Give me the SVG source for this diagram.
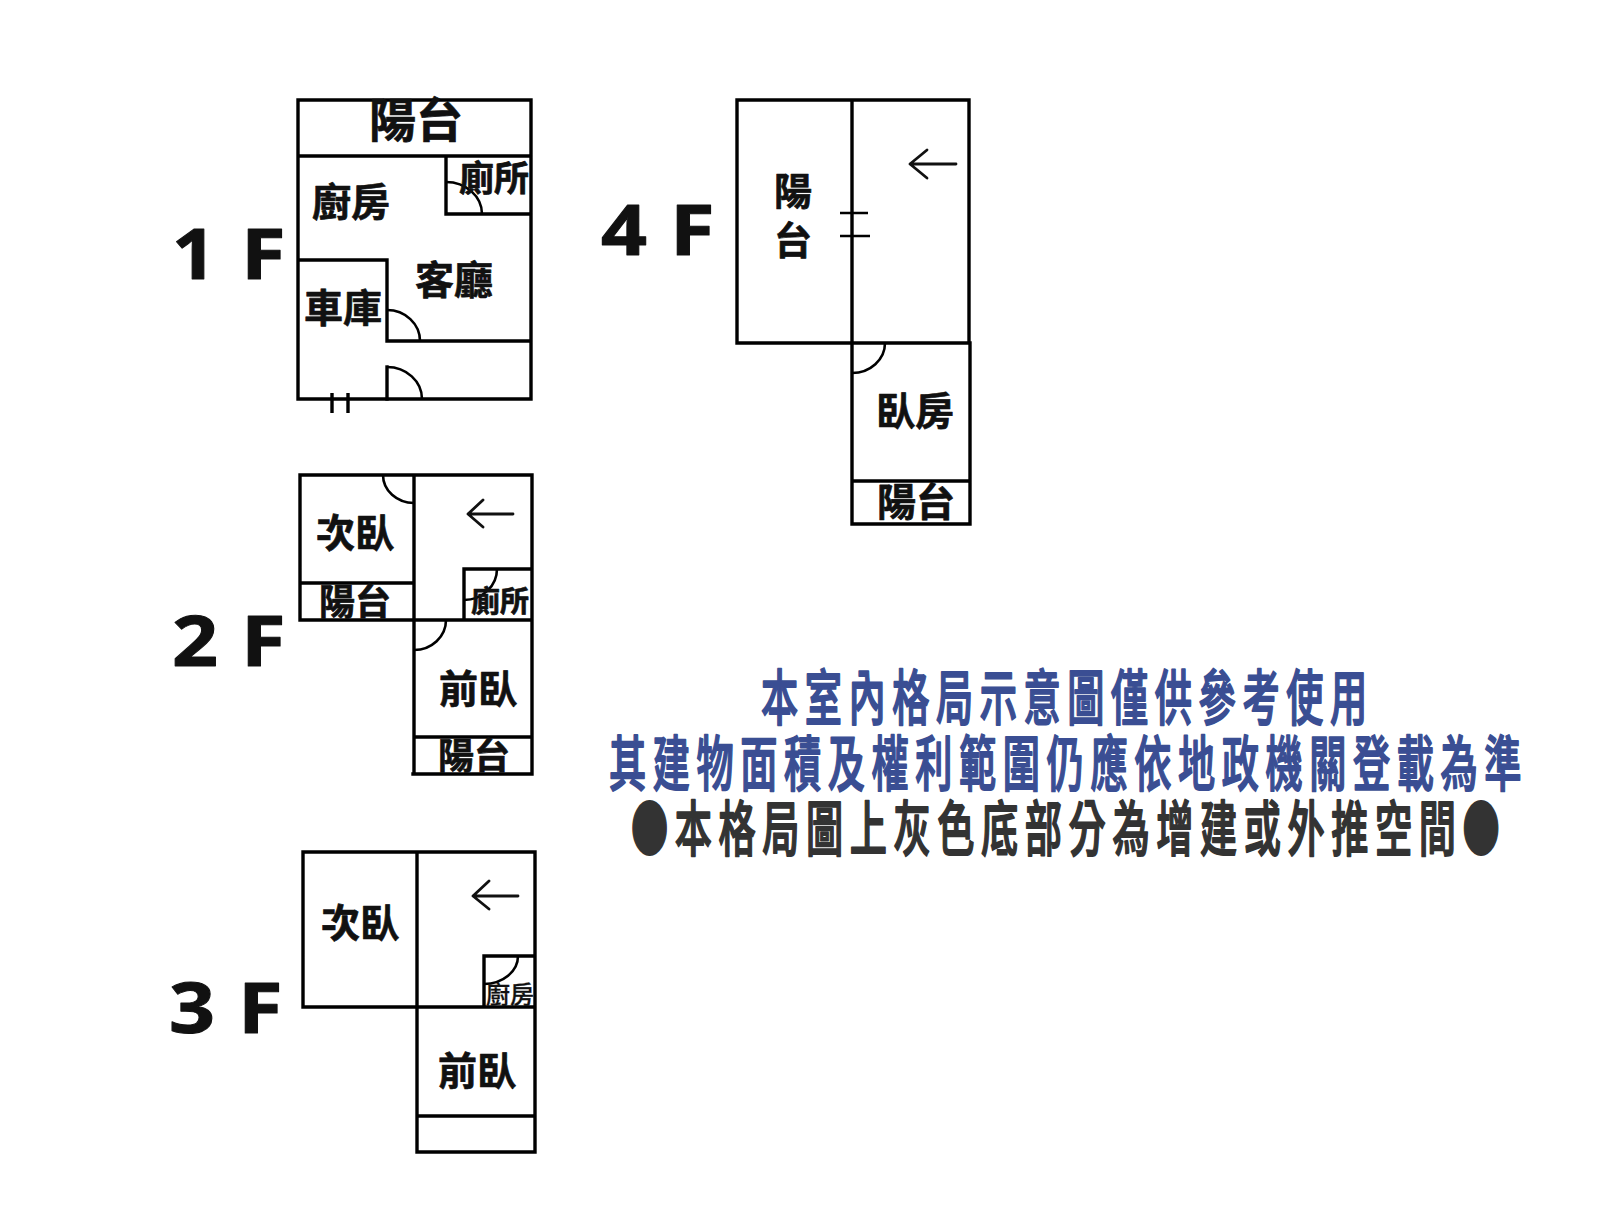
<svg xmlns="http://www.w3.org/2000/svg" width="1600" height="1210" viewBox="0 0 1600 1210">
<style>
.w{fill:none;stroke:#000;stroke-width:3.4;stroke-linecap:square}
.d{fill:none;stroke:#000;stroke-width:2.6}
.a{fill:none;stroke:#111;stroke-width:2.8;stroke-linecap:round;stroke-linejoin:round}
.r{font-family:"Noto Sans CJK TC","Noto Sans CJK SC",sans-serif;font-weight:700;text-anchor:middle;fill:#111;stroke:#111;stroke-width:.7;stroke-linejoin:round}
.f{font-family:"Noto Sans",sans-serif;font-weight:700;fill:#111;stroke:#111;stroke-width:1;stroke-linejoin:round;font-size:70px}
.b{font-family:"Noto Sans CJK TC","Noto Sans CJK SC",sans-serif;font-weight:500;font-size:60px;letter-spacing:10.6px;stroke-width:1.8;stroke-linejoin:round}
.blue{fill:#3a4e93;stroke:#3a4e93}
.dark{fill:#333;stroke:#333}
</style>
<rect width="1600" height="1210" fill="#fff"/>
<g id="floor-1">
<text class="f" transform="translate(172,279) scale(1.1,1)">1</text>
<text class="f" transform="translate(241,279) scale(1.16,1)">F</text>
<path class="w" d="M298 100H531V399H298ZM298 156H531M446 156V214H531M298 260H387V341H531"/>
<path class="w" d="M387 367V399"/>
<path class="w" style="stroke-linecap:butt" d="M332 393V413M348 393V413"/>
<path class="d" d="M446 182A36 32 0 0 1 482 214M387 310A33 31 0 0 1 420 341M387 367A35 32 0 0 1 422 399"/>
<text class="r" x="416" y="137" font-size="47">陽台</text>
<text class="r" x="351" y="216" font-size="39">廚房</text>
<text class="r" x="494" y="191" font-size="35">廁所</text>
<text class="r" x="454" y="294" font-size="39">客廳</text>
<text class="r" x="343" y="322" font-size="39">車庫</text>
</g>
<g id="floor-2">
<text class="f" transform="translate(172,666) scale(1.15,1)">2</text>
<text class="f" transform="translate(241,666) scale(1.16,1)">F</text>
<path class="w" d="M300 475H532V774H413M300 475V620H532M414 475V774M300 583H414M414 737H532M464 620V569H532"/>
<path class="d" d="M383 475A31 28 0 0 0 414 503M414 650A32 30 0 0 0 446 620M497 569A33 31 0 0 1 464 600"/>
<path class="a" d="M513 514H468M483 500L468 514L483 527"/>
<text class="r" x="355" y="547" font-size="39">次臥</text>
<text class="r" x="355" y="615" font-size="36">陽台</text>
<text class="r" x="500" y="612" font-size="29">廁所</text>
<text class="r" x="478" y="703" font-size="39">前臥</text>
<text class="r" x="474" y="769" font-size="36">陽台</text>
</g>
<g id="floor-3">
<text class="f" transform="translate(169,1033) scale(1.15,1)">3</text>
<text class="f" transform="translate(238,1033) scale(1.16,1)">F</text>
<path class="w" d="M303 852H535V1152H417V852M303 852V1007H535M417 1116H535M484 1007V956H535"/>
<path class="d" d="M518 956A34 28 0 0 1 484 984"/>
<path class="a" d="M518 896H473M489 881L473 896L489 909"/>
<text class="r" x="360" y="937" font-size="39">次臥</text>
<text class="r" x="510" y="1003" font-size="24" style="font-weight:500;stroke-width:.3">廚房</text>
<text class="r" x="477" y="1085" font-size="39">前臥</text>
</g>
<g id="floor-4">
<text class="f" transform="translate(601,255) scale(1.15,1)">4</text>
<text class="f" transform="translate(670,255) scale(1.16,1)">F</text>
<path class="w" d="M737 100H969V343H737ZM852 100V524M852 343H970V524H852M852 481H970"/>
<path class="d" d="M852 373A33 30 0 0 0 885 343M840 213H868M840 236H870"/>
<path class="a" d="M956 164H910M927 150L910 164L927 178"/>
<text class="r" x="793" y="205" font-size="38">陽</text>
<text class="r" x="793" y="254" font-size="38">台</text>
<text class="r" x="915" y="425" font-size="39">臥房</text>
<text class="r" x="916" y="516" font-size="39">陽台</text>
</g>
<g id="notes">
<text class="b blue" transform="translate(761,720) scale(.62,1)">本室內格局示意圖僅供參考使用</text>
<text class="b blue" transform="translate(609,786) scale(.62,1)">其建物面積及權利範圍仍應依地政機關登載為準</text>
<text class="b dark" transform="translate(631,851) scale(.62,1)">●本格局圖上灰色底部分為增建或外推空間●</text>
</g>
</svg>
